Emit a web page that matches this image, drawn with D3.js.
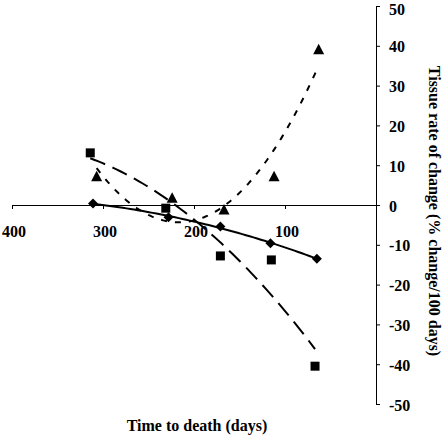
<!DOCTYPE html>
<html>
<head>
<meta charset="utf-8">
<script src="https://cdn.jsdelivr.net/npm/d3@7"></script>
<style>
  html, body { margin: 0; padding: 0; background: #fff; }
  svg { display: block; }
  text { font-family: "Liberation Serif", "Times New Roman", serif; font-weight: bold; font-size: 16px; fill: #000; }
</style>
</head>
<body>
<svg id="chart" width="442" height="436"></svg>
<script>
// ---- data ----
const xTicks = [400, 300, 200, 100];
const yTicks = [50, 40, 30, 20, 10, 0, -10, -20, -30, -40, -50];

const diamondDays = [311, 228, 171, 116, 65];
const diamondValues = [0.4, -3.1, -5.4, -9.6, -13.5];

const squareDays = [314, 231, 171, 115, 67];
const squareValues = [13.1, -0.8, -12.8, -13.8, -40.5];

const triangleDays = [307, 224, 167, 112, 63];
const triangleValues = [7.1, 1.7, -1.25, 7.1, 39.0];

const xTitle = "Time to death (days)";
const yTitle = "Tissue rate of change (% change/100 days)";

// ---- layout ----
const svg = d3.select("#chart");
const x = d3.scaleLinear().domain([400, 0]).range([12, 376]);
const y = d3.scaleLinear().domain([-50, 50]).range([404, 6]);

// quadratic least-squares fit (Excel polynomial order-2 trendline)
function quadFit(xs, ys) {
  const n = xs.length;
  let s = [0,0,0,0,0], t = [0,0,0];
  for (let i = 0; i < n; i++) {
    const xi = xs[i], yi = ys[i];
    let p = 1;
    for (let k = 0; k < 5; k++) { s[k] += p; if (k < 3) t[k] += p * yi; p *= xi; }
  }
  const A = [[s[0], s[1], s[2], t[0]], [s[1], s[2], s[3], t[1]], [s[2], s[3], s[4], t[2]]];
  for (let i = 0; i < 3; i++) {
    let m = i;
    for (let r = i + 1; r < 3; r++) if (Math.abs(A[r][i]) > Math.abs(A[m][i])) m = r;
    [A[i], A[m]] = [A[m], A[i]];
    for (let r = 0; r < 3; r++) {
      if (r === i) continue;
      const f = A[r][i] / A[i][i];
      for (let c = i; c < 4; c++) A[r][c] -= f * A[i][c];
    }
  }
  const c = A.map((row, i) => row[3] / row[i]);
  return v => c[0] + c[1] * v + c[2] * v * v;
}

function trend(days, vals) {
  const f = quadFit(days, vals);
  const lo = d3.min(days), hi = d3.max(days);
  return d3.range(0, 61).map(i => { const d = hi - (hi - lo) * i / 60; return [d, f(d)]; });
}

const line = d3.line().x(d => x(d[0])).y(d => y(d[1])).curve(d3.curveLinear);

// axes
const xAxis = d3.axisBottom(x).tickValues(xTicks).tickSize(4).tickFormat("");
const gx = svg.append("g").attr("transform", `translate(0,${y(0)})`).call(xAxis);
gx.select(".domain").attr("d", `M${x(400)},0.5H${x(0)}`);
gx.selectAll("line, path").attr("stroke", "#000").attr("stroke-width", 1);

svg.append("g").selectAll("text").data(xTicks).join("text")
  .attr("x", d => x(d) + 2).attr("y", 237).attr("text-anchor", "middle").text(d => d);

const yAxis = d3.axisRight(y).tickValues(yTicks).tickSize(4).tickSizeOuter(4).tickFormat("");
const gy = svg.append("g").attr("transform", `translate(${x(0)},0)`).call(yAxis);
gy.selectAll("line, path").attr("stroke", "#000").attr("stroke-width", 1);

svg.append("g").selectAll("text").data(yTicks).join("text")
  .attr("x", 389).attr("y", d => Math.max(y(d) + 6.5, 14.5)).text(d => d);

// trend lines
svg.append("path").datum(trend(diamondDays, diamondValues)).attr("d", line)
  .attr("fill", "none").attr("stroke", "#000").attr("stroke-width", 2);
svg.append("path").datum(trend(squareDays, squareValues)).attr("d", line)
  .attr("fill", "none").attr("stroke", "#000").attr("stroke-width", 2).attr("stroke-dasharray", "16,8");
svg.append("path").datum(trend(triangleDays, triangleValues)).attr("d", line)
  .attr("fill", "none").attr("stroke", "#000").attr("stroke-width", 2).attr("stroke-dasharray", "6,8");

// markers
function markers(days, vals, path) {
  svg.append("g").selectAll("path").data(days).join("path")
    .attr("transform", (d, i) => `translate(${x(d)},${y(vals[i])})`)
    .attr("d", path).attr("fill", "#000");
}
markers(diamondDays, diamondValues, "M0,-5L5,0L0,5L-5,0Z");
markers(squareDays, squareValues, "M-4.5,-4.5H4.5V4.5H-4.5Z");
markers(triangleDays, triangleValues, "M0,-6L5.5,4.5H-5.5Z");

// titles
svg.append("text").attr("x", 197).attr("y", 431).attr("text-anchor", "middle").text(xTitle);
svg.append("text").attr("transform", "translate(429,211) rotate(90)").attr("text-anchor", "middle").text(yTitle);
</script>
</body>
</html>
